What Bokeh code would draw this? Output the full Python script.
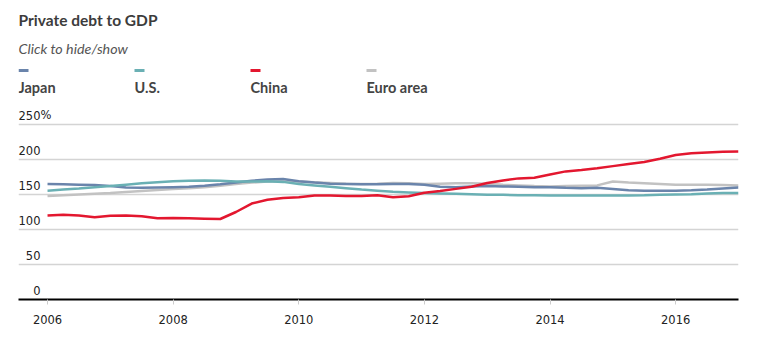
from bokeh.plotting import figure
from bokeh.layouts import column
from bokeh.models import Range1d, FixedTicker
from bokeh.core.properties import value
from bokeh.embed import file_html
from bokeh.resources import INLINE

# ---------------- data (quarterly, % of GDP) ----------------
quarters = [2006 + q / 4 for q in range(45)]   # 2006Q1 ... 2017Q1

japan = [165, 164.5, 164, 163.5,
         162, 160, 159.5, 160,
         160.5, 161, 162.5, 164.5,
         167, 169.5, 171.5, 172,
         169, 167, 165.5, 165,
         164.5, 164.5, 165, 165,
         164, 161, 160.5, 161.5,
         162, 161.5, 161, 160.5,
         160.5, 159.5, 159, 159.5,
         158, 156, 155.5, 155.5,
         155.5, 156, 157, 158.5,
         160]

us = [155.5, 157, 158.5, 160.5,
      162, 164, 166, 167.5,
      169, 169.5, 170, 169.5,
      168.5, 168.5, 169, 168,
      165, 163, 161, 159,
      157, 155.5, 154, 153,
      152, 151.5, 151, 150.5,
      149.5, 149.5, 149, 149,
      148.6, 148.6, 148.6, 148.6,
      148.6, 148.6, 149, 149.5,
      150, 150.5, 151.5, 152,
      152]

china = [120, 121, 120, 117.6,
         119.5, 120, 119, 116,
         116.5, 116, 115.5, 115,
         125, 137, 142.5, 145,
         146, 148.5, 148.6, 148,
         148, 149, 146, 147.5,
         152.5, 155, 158, 161,
         166.5, 170, 173, 174,
         178.5, 183, 185, 187.5,
         190.5, 193.5, 196.5, 201,
         206.5, 209, 210, 211,
         211.5]

euro = [148, 149, 150, 151,
        152, 153.5, 155, 156.5,
        158, 159, 160.5, 162.5,
        165, 167, 168.5, 168.5,
        168.5, 167.5, 166.5, 165.5,
        165, 165.5, 166.5, 166,
        165, 165.5, 166, 166,
        165.5, 164, 163, 162,
        161.5, 162, 162.5, 163,
        168.5, 167, 166, 165,
        164, 164, 164, 163.5,
        163]

series_names = ["Japan", "U.S.", "China", "Euro area"]
series_colors = ["#6a84ab", "#6ab0b4", "#e3172f", "#c2c2c2"]
series_values = [japan, us, china, euro]

y_ticks = [0, 50, 100, 150, 200, 250]
y_tick_labels = ["0", "50", "100", "150", "200", "250"]
x_ticks = [2006, 2008, 2010, 2012, 2014, 2016]

TEXT_DARK = "#3c3c3c"

# ---------------- header (title, subtitle, legend) ----------------
# frame spans canvas pixels 18..738 so that its x range maps 1:1 to page pixels
header = figure(width=759, height=105, output_backend="svg", toolbar_location=None,
                x_range=Range1d(18, 738), y_range=Range1d(105, 0),
                min_border_left=18, min_border_right=21, min_border_top=0, min_border_bottom=0,
                outline_line_color=None)
header.axis.visible = False
header.grid.visible = False

header.text(x=[18], y=[19], text=["Private debt to GDP"], text_font=value("Lato"),
            text_font_style="bold", text_font_size="15.5px", text_color=TEXT_DARK,
            text_baseline="middle", text_align="left")
header.text(x=[18], y=[48], text=["Click to hide/show"], text_font=value("Lato"),
            text_font_style="italic", text_font_size="14.3px", text_color="#555555",
            text_baseline="middle", text_align="left")

leg_x = [18, 134, 250, 366]
header.segment(x0=leg_x, y0=[70] * 4, x1=[x + 10 for x in leg_x], y1=[70] * 4,
               line_color=series_colors, line_width=3)
header.text(x=leg_x, y=[87] * 4, text=series_names, text_font=value("Lato"),
            text_font_style="bold", text_font_size="14.5px", text_color="#444444",
            text_baseline="middle", text_align="left")

# ---------------- main chart ----------------
x_start, x_end = 2005.538, 2017.0
p = figure(width=759, height=249, output_backend="svg", toolbar_location=None,
           x_range=Range1d(x_start, x_end), y_range=Range1d(0, 277.1),
           min_border_left=18, min_border_right=21, min_border_top=0, min_border_bottom=55,
           outline_line_color=None)

p.yaxis.visible = False
p.xgrid.visible = False
p.ygrid.ticker = FixedTicker(ticks=y_ticks[1:])
p.ygrid.grid_line_color = "#d4d4d4"
p.ygrid.grid_line_width = 1.5

p.xaxis.ticker = FixedTicker(ticks=x_ticks)
p.xaxis.axis_line_color = "black"
p.xaxis.axis_line_width = 2
p.xaxis.major_tick_in = 0
p.xaxis.major_tick_out = 5
p.xaxis.major_tick_line_color = "#cccccc"
p.xaxis.minor_tick_line_color = None
p.xaxis.major_label_text_font = "DejaVu Sans"
p.xaxis.major_label_text_font_size = "11.5px"
p.xaxis.major_label_text_color = "#222222"
p.xaxis.major_label_standoff = 10

# y tick labels sit above their gridlines
p.text(x=[x_start] * len(y_ticks), y=y_ticks, text=y_tick_labels,
       text_font=value("DejaVu Sans"), text_font_size="11.5px", text_color="#222222",
       text_align="right", text_baseline="middle", x_offset=22, y_offset=-9)
p.text(x=[x_start], y=[y_ticks[-1]], text=["%"],
       text_font=value("DejaVu Sans"), text_font_size="11.5px", text_color="#222222",
       text_align="left", text_baseline="middle", x_offset=22, y_offset=-9)

for idx in [3, 0, 1, 2]:
    p.line(quarters, series_values[idx], line_color=series_colors[idx], line_width=2.5)

layout = column(header, p, spacing=0)
open("out.html", "w").write(file_html(layout, INLINE))
